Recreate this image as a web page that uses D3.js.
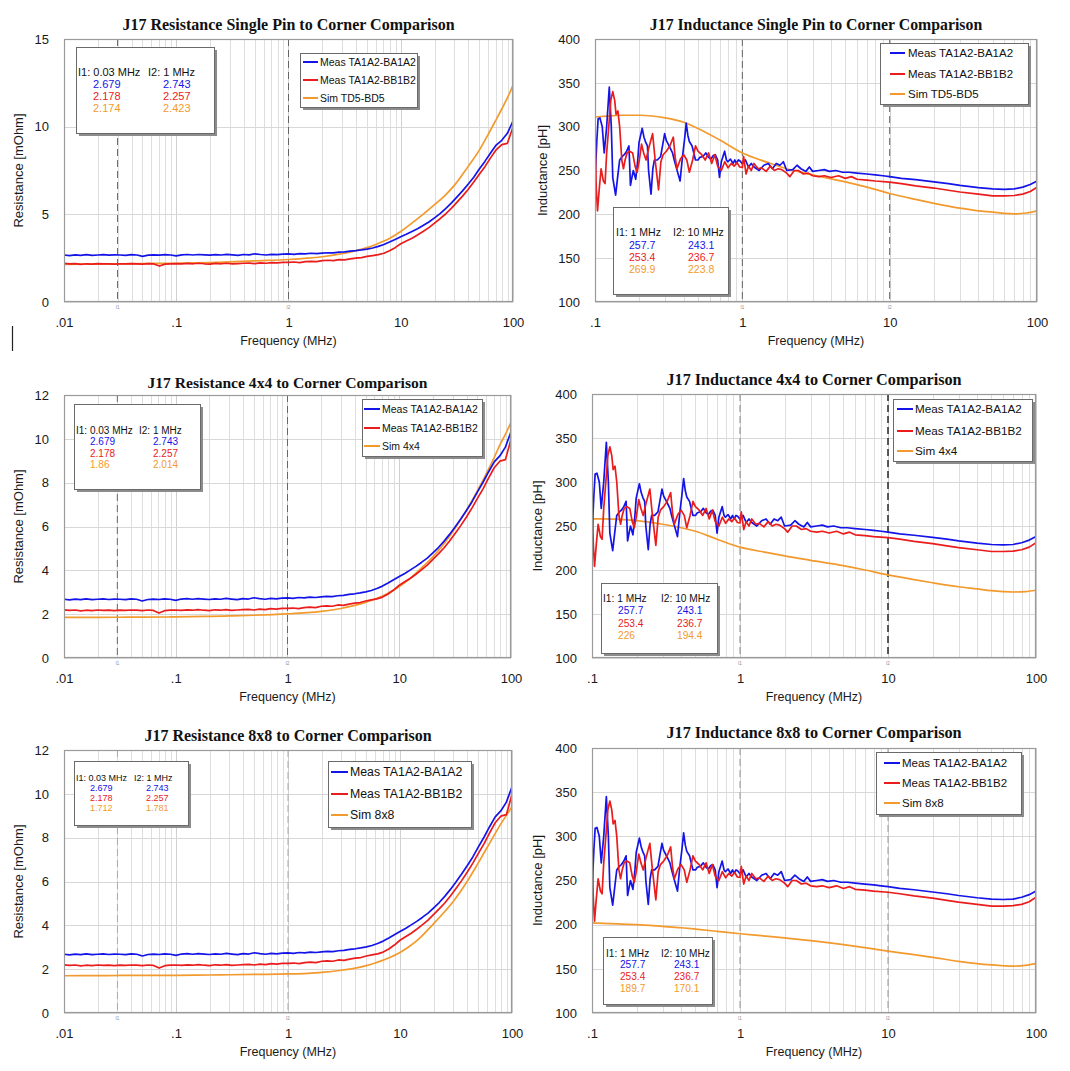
<!DOCTYPE html>
<html><head><meta charset="utf-8">
<script src="https://cdn.jsdelivr.net/npm/d3@7"></script>
<style>body{margin:0;background:#fff}svg{display:block}</style>
</head><body>
<svg id="c" width="1070" height="1071"></svg>
<script>
// ---------------- DATA ----------------
const titles = [
  "J17 Resistance Single Pin to Corner Comparison",
  "J17 Inductance Single Pin to Corner Comparison",
  "J17 Resistance 4x4 to Corner Comparison",
  "J17 Inductance 4x4 to Corner Comparison",
  "J17 Resistance 8x8 to Corner Comparison",
  "J17 Inductance 8x8 to Corner Comparison"
];
const measNames = ["Meas TA1A2-BA1A2", "Meas TA1A2-BB1B2"];
const simNames = ["Sim TD5-BD5", "Sim 4x4", "Sim 8x8"];
const xTicksR = [0.01, 0.1, 1, 10, 100];
const xTicksL = [0.1, 1, 10, 100];
const yTicksR1 = [0, 5, 10, 15];
const yTicksR = [0, 2, 4, 6, 8, 10, 12];
const yTicksL = [100, 150, 200, 250, 300, 350, 400];
const markerFreqR = [0.03, 1];
const markerFreqL = [1, 10];
const markerHeadR = ["I1: 0.03 MHz", "I2: 1 MHz"];
const markerHeadL = ["I1: 1 MHz", "I2: 10 MHz"];
const readoutR1 = [[2.679, 2.743], [2.178, 2.257], [2.174, 2.423]];
const readoutR2 = [[2.679, 2.743], [2.178, 2.257], [1.86, 2.014]];
const readoutR3 = [[2.679, 2.743], [2.178, 2.257], [1.712, 1.781]];
const readoutL1 = [[257.7, 243.1], [253.4, 236.7], [269.9, 223.8]];
const readoutL2 = [[257.7, 243.1], [253.4, 236.7], [226, 194.4]];
const readoutL3 = [[257.7, 243.1], [253.4, 236.7], [189.7, 170.1]];

// measured resistance (MHz, mOhm)
const freqR = [0.01,0.0112,0.0126,0.0141,0.0158,0.0178,0.02,0.0224,0.0251,0.0282,
  0.0316,0.0355,0.0398,0.0447,0.0501,0.0562,0.0631,0.0708,0.0794,0.0891,
  0.1,0.112,0.126,0.141,0.158,0.178,0.2,0.224,0.251,0.282,
  0.316,0.355,0.398,0.447,0.501,0.562,0.631,0.708,0.794,0.891,
  1,1.12,1.26,1.41,1.58,1.78,2,2.24,2.51,2.82,
  3.16,3.55,3.98,4.47,5.01,5.62,6.31,7.08,7.94,8.91,
  10,11.2,12.6,14.1,15.8,17.8,20,22.4,25.1,28.2,
  31.6,35.5,39.8,44.7,50.1,56.2,63.1,70.8,79.4,89.1,100];
const resBA = [2.68,2.65,2.69,2.66,2.70,2.66,2.68,2.70,2.67,2.69,
  2.68,2.66,2.70,2.68,2.60,2.67,2.69,2.67,2.70,2.68,
  2.63,2.69,2.71,2.68,2.71,2.69,2.67,2.70,2.68,2.72,
  2.69,2.66,2.71,2.69,2.75,2.71,2.68,2.72,2.70,2.73,
  2.74,2.72,2.76,2.74,2.78,2.76,2.79,2.81,2.80,2.84,
  2.86,2.90,2.93,2.97,3.02,3.08,3.17,3.28,3.42,3.57,
  3.72,3.86,4.02,4.18,4.36,4.56,4.80,5.04,5.32,5.64,
  5.98,6.34,6.72,7.12,7.58,8.02,8.50,8.95,9.22,9.62,10.32];
const resBB = [2.20,2.17,2.19,2.15,2.18,2.16,2.19,2.17,2.18,2.16,
  2.18,2.17,2.19,2.18,2.16,2.19,2.17,2.05,2.16,2.18,
  2.19,2.17,2.20,2.18,2.21,2.18,2.16,2.20,2.18,2.21,
  2.17,2.19,2.21,2.22,2.19,2.23,2.21,2.25,2.23,2.26,
  2.26,2.28,2.25,2.30,2.32,2.30,2.36,2.38,2.36,2.42,
  2.40,2.46,2.50,2.53,2.60,2.65,2.70,2.78,2.92,3.10,
  3.32,3.48,3.64,3.82,4.02,4.24,4.50,4.75,5.02,5.34,
  5.68,6.04,6.42,6.84,7.28,7.72,8.22,8.68,8.98,9.05,9.98];

// simulated resistance
const simFreqR = [0.01,0.02,0.03,0.05,0.1,0.2,0.3,0.5,1,1.5,2,3,4,5,6,7,8,10,12,15,20,25,30,40,50,60,70,80,90,100];
const simR_TD5 = [2.15,2.165,2.174,2.19,2.21,2.25,2.29,2.35,2.423,2.50,2.58,2.76,2.93,3.10,3.28,3.46,3.64,4.02,4.40,4.88,5.55,6.10,6.65,7.75,8.65,9.55,10.35,11.05,11.70,12.35];
const simR_4x4 = [1.85,1.855,1.86,1.865,1.875,1.90,1.92,1.95,2.014,2.07,2.13,2.26,2.40,2.54,2.68,2.82,2.96,3.26,3.55,4.00,4.62,5.20,5.75,6.75,7.62,8.40,9.10,9.75,10.25,10.75];
const simR_8x8 = [1.70,1.706,1.712,1.715,1.72,1.735,1.745,1.76,1.781,1.81,1.85,1.95,2.05,2.16,2.28,2.40,2.52,2.76,3.02,3.42,4.08,4.62,5.10,6.02,6.85,7.55,8.15,8.65,9.05,9.40];

// measured inductance (MHz, pH)
const freqL_BA = [0.1,0.103,0.105,0.108,0.112,0.1155,0.12,0.125,0.129,0.132,0.138,0.143,0.147,0.153,0.158,0.164,0.170,0.174,0.178,0.182,
  0.189,0.195,0.199,0.209,0.215,0.221,0.227,0.231,0.240,0.247,0.253,0.265,0.279,0.297,0.305,0.314,0.325,0.336,0.345,0.354,
  0.378,0.392,0.405,0.416,0.427,0.437,0.456,0.481,0.50,0.515,0.54,0.565,0.59,0.612,0.635,0.655,0.68,0.70,0.72,0.758,
  0.78,0.797,0.83,0.866,0.89,0.911,0.94,0.963,1.0,1.05,1.1,1.15,1.2,1.3,1.4,1.5,1.6,1.7,1.8,1.9,
  2.0,2.2,2.35,2.5,2.7,2.85,3.0,3.3,3.6,3.9,4.3,4.8,5.3,6,7,8,9,10,12,15,20,25,30,40,50,60,70,80,90,100];
const indBA = [238,285,309,310,300,270,300,345,300,242,222,245,262,266,268,272,278,233,242,250,
  240,262,282,298,288,282,278,250,223,252,262,262,266,292,284,280,275,270,262,255,
  238,265,285,304,290,283,278,262,262,265,266,270,265,263,267,268,262,242,260,272,
  262,260,263,258,262,258,262,261,257.7,262,254,258,254,250,256,258,252,258,256,260,
  250,251,256,252,249,254,249,250,251,249,250,248,248,247,246,245,244,243.1,241,239.5,237,235,233,230.5,229,228.5,229,231,234,238];
const freqL_BB = [0.1,0.102,0.104,0.107,0.11,0.114,0.117,0.12,0.124,0.128,0.132,0.136,0.139,0.143,0.147,0.152,0.156,0.16,0.165,0.172,
  0.18,0.187,0.193,0.2,0.207,0.214,0.222,0.232,0.246,0.256,0.27,0.28,0.29,0.305,0.322,0.34,0.35,0.36,0.38,0.40,
  0.42,0.437,0.46,0.481,0.50,0.53,0.56,0.59,0.62,0.65,0.68,0.72,0.76,0.80,0.84,0.88,0.92,0.96,1.0,1.02,
  1.06,1.1,1.15,1.2,1.28,1.35,1.45,1.55,1.65,1.75,1.85,2.0,2.1,2.25,2.4,2.6,2.8,3.0,3.3,3.6,
  4.0,4.5,5.0,5.5,6,7,8,10,12,15,20,25,30,40,50,60,70,80,90,100];
const indBB = [290,230,204,230,252,238,235,270,300,330,340,330,314,318,300,262,252,262,270,272,
  270,255,248,262,280,270,262,276,292,262,228,260,268,272,278,288,265,252,263,268,
  262,248,262,278,272,268,262,270,258,268,255,250,260,253,258,255,259,254,253.4,266,
  246,255,250,258,252,253,249,255,250,252,251,247,243,250,250,246,247,244,243,244,
  242,244,241,243,240,239,238,236.7,235,232.5,230,227.5,225.5,223,221,221,221.5,223,226,231];

// simulated inductance
const simFreqL = [0.1,0.12,0.15,0.2,0.3,0.4,0.5,0.7,1,1.5,2,3,5,7,10,15,20,30,40,50,60,70,85,100];
const simL_TD5 = [311,312,313,313,310,305,298,285,269.9,259,252,245,237,231,223.8,217,212.5,207,204,202.5,201,200.5,201.5,204];
const simL_4x4 = [258,258,257.5,256,252,248,244,235,226,220,216,211,205,200,194.4,189,185.5,181,178.5,176.5,175.5,175,175.5,177];
const simL_8x8 = [202,201.5,201,200,198,196.5,195,192.5,189.7,187,185,182,177.5,174,170.1,166,163,158.5,156,154.5,153.5,153,154,156];

// ---------------- DRAWING ----------------
const COL = {blue: "#1414e8", red: "#ea1c1c", orange: "#f29a2e"};
const SANS = "'Liberation Sans', Arial, sans-serif";
const SERIF = "'Liberation Serif', 'Times New Roman', serif";
const svg = d3.select("#c");
const zip = (a, b) => a.map((v, i) => [v, b[i]]);

const panels = [
  {title: titles[0], tfs: 16, x0: 64, x1: 513, y0: 39, y1: 302, xdom: [0.01, 100], ydom: [0, 15], xticks: xTicksR, yticks: yTicksR1,
   ylab: "Resistance [mOhm]", ylabX: 18.5, titleY: 30,
   meas: [zip(freqR, resBA), zip(freqR, resBB)], sim: zip(simFreqR, simR_TD5), simName: simNames[0],
   mk: markerFreqR, mkStyle: [["#666", 1], ["#666", 1]], head: markerHeadR, read: readoutR1,
   leg: {x: 300, y: 53, w: 117, h: 54, rows: [62, 80, 98], l0: 303, l1: 318, tx: 320, fs: 10.5},
   box: {x: 76, y: 47, w: 138, h: 86, hy: 72, rows: [84, 96, 108], cx: [78, 148], vx: [93, 163], fs: 11}},
  {title: titles[1], tfs: 15.8, x0: 595, x1: 1037, y0: 39, y1: 302, xdom: [0.1, 100], ydom: [100, 400], xticks: xTicksL, yticks: yTicksL,
   ylab: "Inductance [pH]", ylabX: 542.5, titleY: 30,
   meas: [zip(freqL_BA, indBA), zip(freqL_BB, indBB)], sim: zip(simFreqL, simL_TD5), simName: simNames[0],
   mk: markerFreqL, mkStyle: [["#666", 1], ["#666", 1]], head: markerHeadL, read: readoutL1,
   leg: {x: 880, y: 43, w: 148, h: 61, rows: [53, 74, 94], l0: 890, l1: 905, tx: 908, fs: 11.5},
   box: {x: 613, y: 207, w: 115, h: 87, hy: 232, rows: [245, 257, 269], cx: [616, 673], vx: [629, 688], fs: 10.5}},
  {title: titles[2], tfs: 15.6, x0: 64, x1: 511, y0: 395, y1: 658, xdom: [0.01, 100], ydom: [0, 12], xticks: xTicksR, yticks: yTicksR,
   ylab: "Resistance [mOhm]", ylabX: 18, titleY: 388,
   meas: [zip(freqR, resBA), zip(freqR, resBB)], sim: zip(simFreqR, simR_4x4), simName: simNames[1],
   mk: markerFreqR, mkStyle: [["#666", 1], ["#666", 1]], head: markerHeadR, read: readoutR2,
   leg: {x: 362, y: 399, w: 120, h: 57, rows: [409, 428, 446], l0: 364, l1: 380, tx: 382, fs: 10.5},
   box: {x: 74, y: 404, w: 126, h: 85, hy: 430, rows: [441, 453, 464], cx: [76, 139], vx: [90, 153], fs: 10}},
  {title: titles[3], tfs: 16.2, x0: 592, x1: 1036, y0: 394, y1: 658, xdom: [0.1, 100], ydom: [100, 400], xticks: xTicksL, yticks: yTicksL,
   ylab: "Inductance [pH]", ylabX: 537, titleY: 385,
   meas: [zip(freqL_BA, indBA), zip(freqL_BB, indBB)], sim: zip(simFreqL, simL_4x4), simName: simNames[1],
   mk: markerFreqL, mkStyle: [["#888", 1], ["#333", 1.6]], head: markerHeadL, read: readoutL2,
   leg: {x: 893, y: 399, w: 139, h: 62, rows: [409, 431, 451], l0: 897, l1: 913, tx: 915, fs: 11.7},
   box: {x: 601, y: 583, w: 116, h: 70, hy: 598, rows: [610, 623, 635], cx: [603, 661], vx: [618, 677], fs: 10.2}},
  {title: titles[4], tfs: 16, x0: 64, x1: 512, y0: 750, y1: 1013, xdom: [0.01, 100], ydom: [0, 12], xticks: xTicksR, yticks: yTicksR,
   ylab: "Resistance [mOhm]", ylabX: 18, titleY: 741,
   meas: [zip(freqR, resBA), zip(freqR, resBB)], sim: zip(simFreqR, simR_8x8), simName: simNames[2],
   mk: markerFreqR, mkStyle: [["#aaa", 1], ["#aaa", 1]], head: markerHeadR, read: readoutR3,
   leg: {x: 328, y: 761, w: 143, h: 66, rows: [772, 794, 815], l0: 331, l1: 348, tx: 350, fs: 12.3},
   box: {x: 74, y: 761, w: 114, h: 64, hy: 778, rows: [788, 798, 808], cx: [76, 134], vx: [90, 146], fs: 9}},
  {title: titles[5], tfs: 16.2, x0: 592, x1: 1036, y0: 748, y1: 1013, xdom: [0.1, 100], ydom: [100, 400], xticks: xTicksL, yticks: yTicksL,
   ylab: "Inductance [pH]", ylabX: 537, titleY: 738,
   meas: [zip(freqL_BA, indBA), zip(freqL_BB, indBB)], sim: zip(simFreqL, simL_8x8), simName: simNames[2],
   mk: markerFreqL, mkStyle: [["#999", 1], ["#999", 1]], head: markerHeadL, read: readoutL3,
   leg: {x: 876, y: 752, w: 145, h: 62, rows: [763, 783, 803], l0: 884, l1: 900, tx: 902, fs: 11.5},
   box: {x: 603, y: 937, w: 109, h: 67, hy: 953, rows: [964, 976, 988], cx: [606, 661], vx: [620, 674], fs: 10.1}}
];

const fmtX = d => d < 1 ? String(d).replace(/^0/, "") : String(d);

panels.forEach((p, pi) => {
  const g = svg.append("g");
  const x = d3.scaleLog().domain(p.xdom).range([p.x0, p.x1]);
  const y = d3.scaleLinear().domain(p.ydom).range([p.y1, p.y0]);

  // grid
  g.append("g").selectAll("line").data(x.ticks()).join("line")
    .attr("x1", d => Math.round(x(d)) + 0.5).attr("x2", d => Math.round(x(d)) + 0.5)
    .attr("y1", p.y0).attr("y2", p.y1)
    .attr("stroke", d => p.xticks.includes(d) ? "#d0d0d0" : "#dedede").attr("stroke-width", 1);
  g.append("g").selectAll("line").data(p.yticks).join("line")
    .attr("x1", p.x0).attr("x2", p.x1)
    .attr("y1", d => Math.round(y(d)) + 0.5).attr("y2", d => Math.round(y(d)) + 0.5)
    .attr("stroke", "#d8d8d8").attr("stroke-width", 1);

  // marker dashed lines
  g.append("g").selectAll("line").data(p.mk).join("line")
    .attr("x1", d => x(d)).attr("x2", d => x(d)).attr("y1", p.y0).attr("y2", p.y1)
    .attr("stroke", (d, i) => p.mkStyle[i][0]).attr("stroke-width", (d, i) => p.mkStyle[i][1])
    .attr("stroke-dasharray", "7,4");
  g.append("g").selectAll("text").data(p.mk).join("text")
    .attr("x", d => x(d)).attr("y", p.y1 + 7).attr("text-anchor", "middle")
    .attr("font-size", 4.5).attr("font-family", SANS).attr("fill", "#888")
    .text((d, i) => "I" + (i + 1));

  // clip
  const cid = "clip" + pi;
  svg.append("clipPath").attr("id", cid).append("rect")
    .attr("x", p.x0).attr("y", p.y0).attr("width", p.x1 - p.x0).attr("height", p.y1 - p.y0);

  const lineLin = d3.line().x(d => x(d[0])).y(d => y(d[1]));
  const lineSm = d3.line().x(d => x(d[0])).y(d => y(d[1])).curve(d3.curveMonotoneX);
  const lg = g.append("g").attr("clip-path", `url(#${cid})`);
  lg.append("path").datum(p.sim).attr("d", lineSm).attr("fill", "none")
    .attr("stroke", COL.orange).attr("stroke-width", 1.7);
  lg.append("path").datum(p.meas[0]).attr("d", lineLin).attr("fill", "none")
    .attr("stroke", COL.blue).attr("stroke-width", 1.7).attr("stroke-linejoin", "round");
  lg.append("path").datum(p.meas[1]).attr("d", lineLin).attr("fill", "none")
    .attr("stroke", COL.red).attr("stroke-width", 1.7).attr("stroke-linejoin", "round");

  // border
  g.append("rect").attr("x", p.x0 + 0.5).attr("y", p.y0 + 0.5)
    .attr("width", p.x1 - p.x0 - 1).attr("height", p.y1 - p.y0 - 1)
    .attr("fill", "none").attr("stroke", "#9a9a9a").attr("stroke-width", 1.2);

  // axes
  const ax = g.append("g").attr("transform", `translate(0,${p.y1})`)
    .call(d3.axisBottom(x).tickValues(p.xticks).tickFormat(fmtX).tickSize(0).tickPadding(16));
  ax.select(".domain").remove();
  ax.selectAll("text").attr("font-size", 13).attr("font-family", SANS).attr("fill", "#1a1a1a");
  const ay = g.append("g").attr("transform", `translate(${p.x0},0)`)
    .call(d3.axisLeft(y).tickValues(p.yticks).tickFormat(d3.format("d")).tickSize(0).tickPadding(15));
  ay.select(".domain").remove();
  ay.selectAll("text").attr("font-size", 13).attr("font-family", SANS).attr("fill", "#1a1a1a");

  // title & labels
  g.append("text").attr("x", (p.x0 + p.x1) / 2).attr("y", p.titleY).attr("text-anchor", "middle")
    .attr("font-family", SERIF).attr("font-weight", "bold").attr("font-size", p.tfs).attr("fill", "#111")
    .text(p.title);
  g.append("text").attr("x", (p.x0 + p.x1) / 2).attr("y", p.y1 + 43).attr("text-anchor", "middle")
    .attr("font-family", SANS).attr("font-size", 12.5).attr("fill", "#1a1a1a").text("Frequency (MHz)");
  g.append("text").attr("transform", `translate(${p.ylabX + 4.5},${(p.y0 + p.y1) / 2}) rotate(-90)`)
    .attr("text-anchor", "middle").attr("font-family", SANS).attr("font-size", 13).attr("fill", "#1a1a1a")
    .text(p.ylab);

  // legend
  const L = p.leg;
  g.append("rect").attr("x", L.x + 3).attr("y", L.y + 3).attr("width", L.w).attr("height", L.h).attr("fill", "#8c8c8c");
  g.append("rect").attr("x", L.x + 0.5).attr("y", L.y + 0.5).attr("width", L.w).attr("height", L.h)
    .attr("fill", "#fff").attr("stroke", "#6a6a6a");
  const names = [measNames[0], measNames[1], p.simName];
  const cols = [COL.blue, COL.red, COL.orange];
  const le = g.append("g").selectAll("g").data(names).join("g");
  le.append("line").attr("x1", L.l0).attr("x2", L.l1).attr("y1", (d, i) => L.rows[i]).attr("y2", (d, i) => L.rows[i])
    .attr("stroke", (d, i) => cols[i]).attr("stroke-width", 2);
  le.append("text").attr("x", L.tx).attr("y", (d, i) => L.rows[i]).attr("dy", "0.35em")
    .attr("font-family", SANS).attr("font-size", L.fs).attr("fill", "#111").text(d => d);

  // marker readout box
  const B = p.box;
  g.append("rect").attr("x", B.x + 3).attr("y", B.y + 3).attr("width", B.w).attr("height", B.h).attr("fill", "#8c8c8c");
  g.append("rect").attr("x", B.x + 0.5).attr("y", B.y + 0.5).attr("width", B.w).attr("height", B.h)
    .attr("fill", "#fff").attr("stroke", "#6a6a6a");
  g.append("g").selectAll("text").data(p.head).join("text")
    .attr("x", (d, i) => B.cx[i]).attr("y", B.hy).attr("dy", "0.35em")
    .attr("font-family", SANS).attr("font-size", B.fs).attr("fill", "#111").text(d => d);
  p.read.forEach((row, r) => {
    g.append("g").selectAll("text").data(row).join("text")
      .attr("x", (d, i) => B.vx[i]).attr("y", B.rows[r]).attr("dy", "0.35em")
      .attr("font-family", SANS).attr("font-size", B.fs).attr("fill", cols[r]).text(d => String(d));
  });
});

// stray vertical mark at left edge
svg.append("line").attr("x1", 12.5).attr("x2", 12.5).attr("y1", 326).attr("y2", 351)
  .attr("stroke", "#222").attr("stroke-width", 1.2);
</script>
</body></html>
